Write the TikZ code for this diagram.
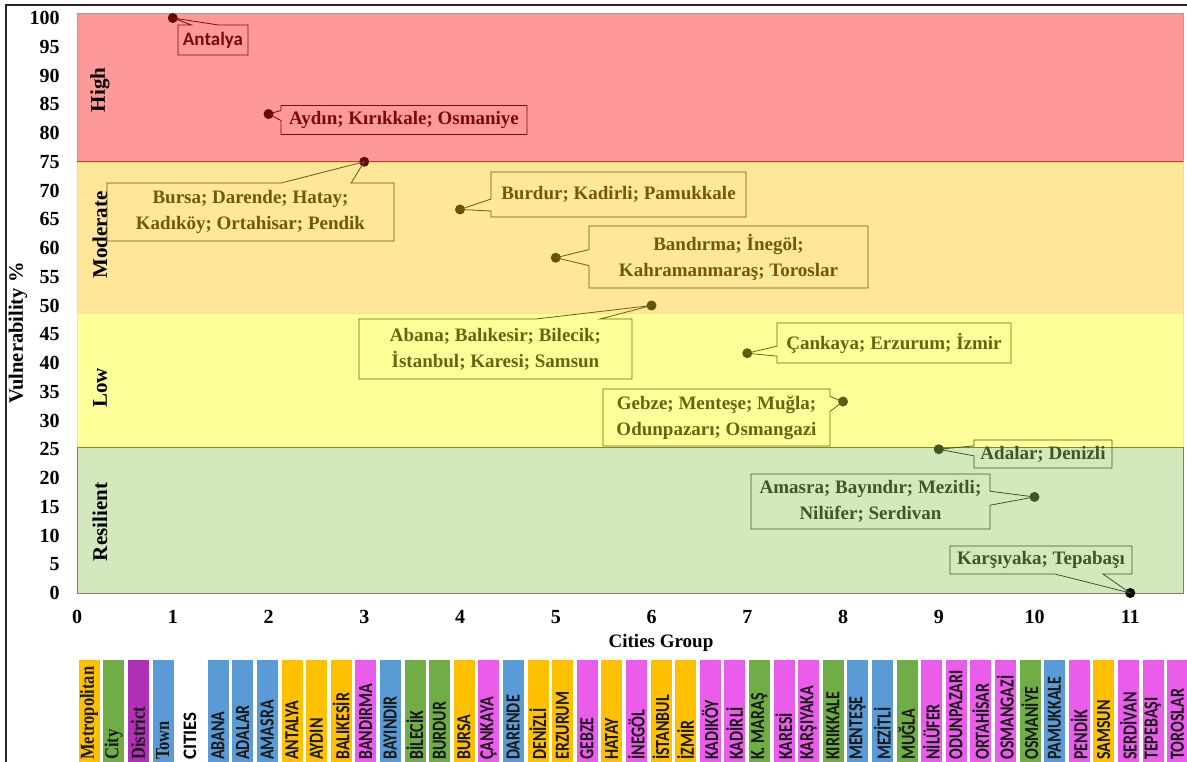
\documentclass[tikz,border=0pt]{standalone}
\usepackage{fontspec}
\setmainfont{Liberation Serif}
\newfontfamily\barfont{Carlito}
\usepackage{tikz}
\usepackage{xcolor}
\usetikzlibrary{
    shapes,
    shapes.callouts
}

\definecolor{highband}{HTML}{FF9999}
\definecolor{modband}{HTML}{FFE699}
\definecolor{lowband}{HTML}{FFFF99}
\definecolor{resband}{HTML}{D3E9BD}
\definecolor{hightext}{HTML}{7A0A0A}
\definecolor{modtext}{HTML}{6E5A0E}
\definecolor{lowtext}{HTML}{66660F}
\definecolor{restext}{HTML}{3E5726}
\definecolor{metro}{HTML}{FFC000}
\definecolor{city}{HTML}{70AD47}
\definecolor{district}{HTML}{B030B8}
\definecolor{town}{HTML}{5B9BD5}
\definecolor{pink}{HTML}{EA5CEA}

\tikzset{
    label box/.style={rectangle callout, draw=#1, text=#1, line width=0.8pt, align=center, inner sep=0pt,
        font=\bfseries\fontsize{19}{26}\selectfont},
    datadot/.style={circle, fill=#1, inner sep=0pt, minimum size=10pt},
    ticklabel/.style={inner sep=0pt, font=\bfseries\fontsize{20}{20}\selectfont},
    band name/.style={rotate=90, inner sep=0pt, font=\bfseries\fontsize{21}{21}\selectfont},
    citybar/.style={rectangle, fill=#1, draw=white, line width=0.6pt, minimum width=22pt, minimum height=112pt, inner sep=0pt},
    bar text/.style={rotate=90, anchor=west, inner sep=0pt, text=black!90, font=\barfont\bfseries\fontsize{16}{16}\selectfont},
    group text/.style={rotate=90, anchor=west, inner sep=0pt, text=black!90, font=\bfseries\fontsize{16.5}{16.5}\selectfont}
}

\begin{document}
\begin{tikzpicture}[x=1pt, y=-1pt]
    \clip (0,0) rectangle (1187,762);
    \fill[white] (0,0) rectangle (1187,762);

    % frame
    \draw[line width=2pt, black!85] (6,762) -- (6,5) -- (1187,5);

    \begin{scope}[shift={(77,593)}, x=95.75pt, y=5.75pt]
        % bands
        \filldraw[fill=highband, draw=highband!80!red] (0,75) rectangle (11.55,100.9);
        \filldraw[fill=modband, draw=modband!85!orange] (0,48.7) rectangle (11.55,75);
        \filldraw[fill=lowband, draw=lowband!80!orange] (0,25.4) rectangle (11.55,48.7);
        \filldraw[fill=resband, draw=resband!80!green!60!black] (0,0) rectangle (11.55,25.4);
        \draw[line width=1pt, red!70!orange] (0,75) -- (11.55,75);

        % axes labels
        \foreach \v in {0,5,...,100}
            \node[ticklabel, anchor=east] (yt\v) at (-0.18,\v) {\v};
        \foreach \g in {0,...,11}
            \node[ticklabel] (xt\g) at (\g,-4.2) {\g};

        % data points
        \node[datadot=hightext!80!black] (p1) at (1,100) {};
        \node[datadot=hightext!80!black] (p2) at (2,83.3) {};
        \node[datadot=hightext!80!black] (p3) at (3,75) {};
        \node[datadot=modtext!90!black] (p4) at (4,66.7) {};
        \node[datadot=modtext!90!black] (p5) at (5,58.3) {};
        \node[datadot=modtext!90!black] (p6) at (6,50) {};
        \node[datadot=lowtext!90!black] (p7) at (7,41.7) {};
        \node[datadot=lowtext!90!black] (p8) at (8,33.3) {};
        \node[datadot=restext] (p9) at (9,25) {};
        \node[datadot=restext] (p10) at (10,16.7) {};
        \node[datadot=black] (p11) at (11,0) {};
    \end{scope}

    \node[band name] (high) at (100,90) {High};
    \node[band name] (moderate) at (100,235) {Moderate};
    \node[band name] (low) at (100,388) {Low};
    \node[band name] (resilient) at (100,522) {Resilient};

    \node[rotate=90, inner sep=0pt, font=\bfseries\fontsize{20.5}{20.5}\selectfont] (ytitle) at (18,333) {Vulnerability \%};
    \node[inner sep=0pt, font=\bfseries\fontsize{19}{19}\selectfont] (xtitle) at (661,643) {Cities Group};

    % callouts
    \node[label box=hightext, font=\barfont\bfseries\fontsize{19}{19}\selectfont, minimum width=70pt, minimum height=30pt,
        callout absolute pointer={(p1.center)}, callout pointer width=27pt] (b1) at (213,40) {Antalya};
    \node[label box=hightext, minimum width=246pt, minimum height=29pt,
        callout absolute pointer={(p2.center)}, callout pointer width=10pt] (b2) at (404,120) {Ayd\i n; K\i r\i kkale; Osmaniye};
    \node[label box=modtext, minimum width=287pt, minimum height=58pt,
        callout absolute pointer={(p3.center)}, callout pointer width=70pt] (b3) at (250.5,212) {Bursa; Darende; Hatay;\\Kad\i köy; Ortahisar; Pendik};
    \node[label box=modtext, minimum width=255pt, minimum height=45pt,
        callout absolute pointer={(p4.center)}, callout pointer width=12pt] (b4) at (618.5,194.5) {Burdur; Kadirli; Pamukkale};
    \node[label box=modtext, minimum width=279pt, minimum height=62pt,
        callout absolute pointer={(p5.center)}, callout pointer width=16pt] (b5) at (728.5,257) {Band\i rma; İnegöl;\\Kahramanmaraş; Toroslar};
    \node[label box=lowtext, minimum width=273pt, minimum height=60pt,
        callout absolute pointer={(p6.center)}, callout pointer width=64pt] (b6) at (495.5,349) {Abana; Bal\i kesir; Bilecik;\\İstanbul; Karesi; Samsun};
    \node[label box=lowtext, minimum width=234pt, minimum height=40pt,
        callout absolute pointer={(p7.center)}, callout pointer width=10pt] (b7) at (894,343) {Çankaya; Erzurum; İzmir};
    \node[label box=lowtext, minimum width=227pt, minimum height=57pt,
        callout absolute pointer={(p8.center)}, callout pointer width=15pt] (b8) at (716.5,417.5) {Gebze; Menteşe; Muğla;\\Odunpazar\i; Osmangazi};
    \node[label box=restext, minimum width=138pt, minimum height=28pt,
        callout absolute pointer={(p9.center)}, callout pointer width=10pt] (b9) at (1043,454) {Adalar; Denizli};
    \node[label box=restext, minimum width=239pt, minimum height=55pt,
        callout absolute pointer={(p10.center)}, callout pointer width=14pt] (b10) at (870.5,501.5) {Amasra; Bay\i nd\i r; Mezitli;\\Nilüfer; Serdivan};
    \node[label box=restext, minimum width=182pt, minimum height=28pt,
        callout absolute pointer={(p11.center)}, callout pointer width=48pt] (b11) at (1041,560) {Karş\i yaka; Tepabaş\i};

    % legend of city types
    \foreach \name/\col [count=\i from 0] in {Metropolitan/metro, City/city, District/district, Town/town} {
        \node[citybar=\col] (g\i) at ({89+24.6*\i},715) {};
        \node[group text] (gt\i) at ({89+24.6*\i},760) {\scalebox{1}[1.2]{\name}};
    }
    \node[rotate=90, anchor=west, inner sep=0pt, font=\barfont\bfseries\fontsize{19}{19}\selectfont] (cities) at (190,760) {CITIES};

    % cities
    \foreach \name/\col [count=\i from 0] in {ABANA/town, ADALAR/town, AMASRA/town, ANTALYA/metro, AYDIN/metro,
        BALIKESİR/metro, BANDIRMA/pink, BAYINDIR/town, BİLECİK/city, BURDUR/city, BURSA/metro, ÇANKAYA/pink,
        DARENDE/town, DENİZLİ/metro, ERZURUM/metro, GEBZE/pink, HATAY/metro, İNEGÖL/pink, İSTANBUL/metro,
        İZMİR/metro, KADIKÖY/pink, KADİRLİ/pink, K. MARAŞ/city, KARESİ/pink, KARŞIYAKA/pink, KIRIKKALE/city,
        MENTEŞE/town, MEZİTLİ/town, MUĞLA/city, NİLÜFER/pink, ODUNPAZARI/pink, ORTAHİSAR/pink, OSMANGAZİ/pink,
        OSMANİYE/city, PAMUKKALE/town, PENDİK/pink, SAMSUN/metro, SERDİVAN/pink, TEPEBAŞI/pink, TOROSLAR/pink} {
        \node[citybar=\col] (c\i) at ({218+24.6*\i},715) {};
        \node[bar text] (ct\i) at ({218+24.6*\i},760) {\scalebox{1}[1.25]{\name}};
    }
\end{tikzpicture}
\end{document}
